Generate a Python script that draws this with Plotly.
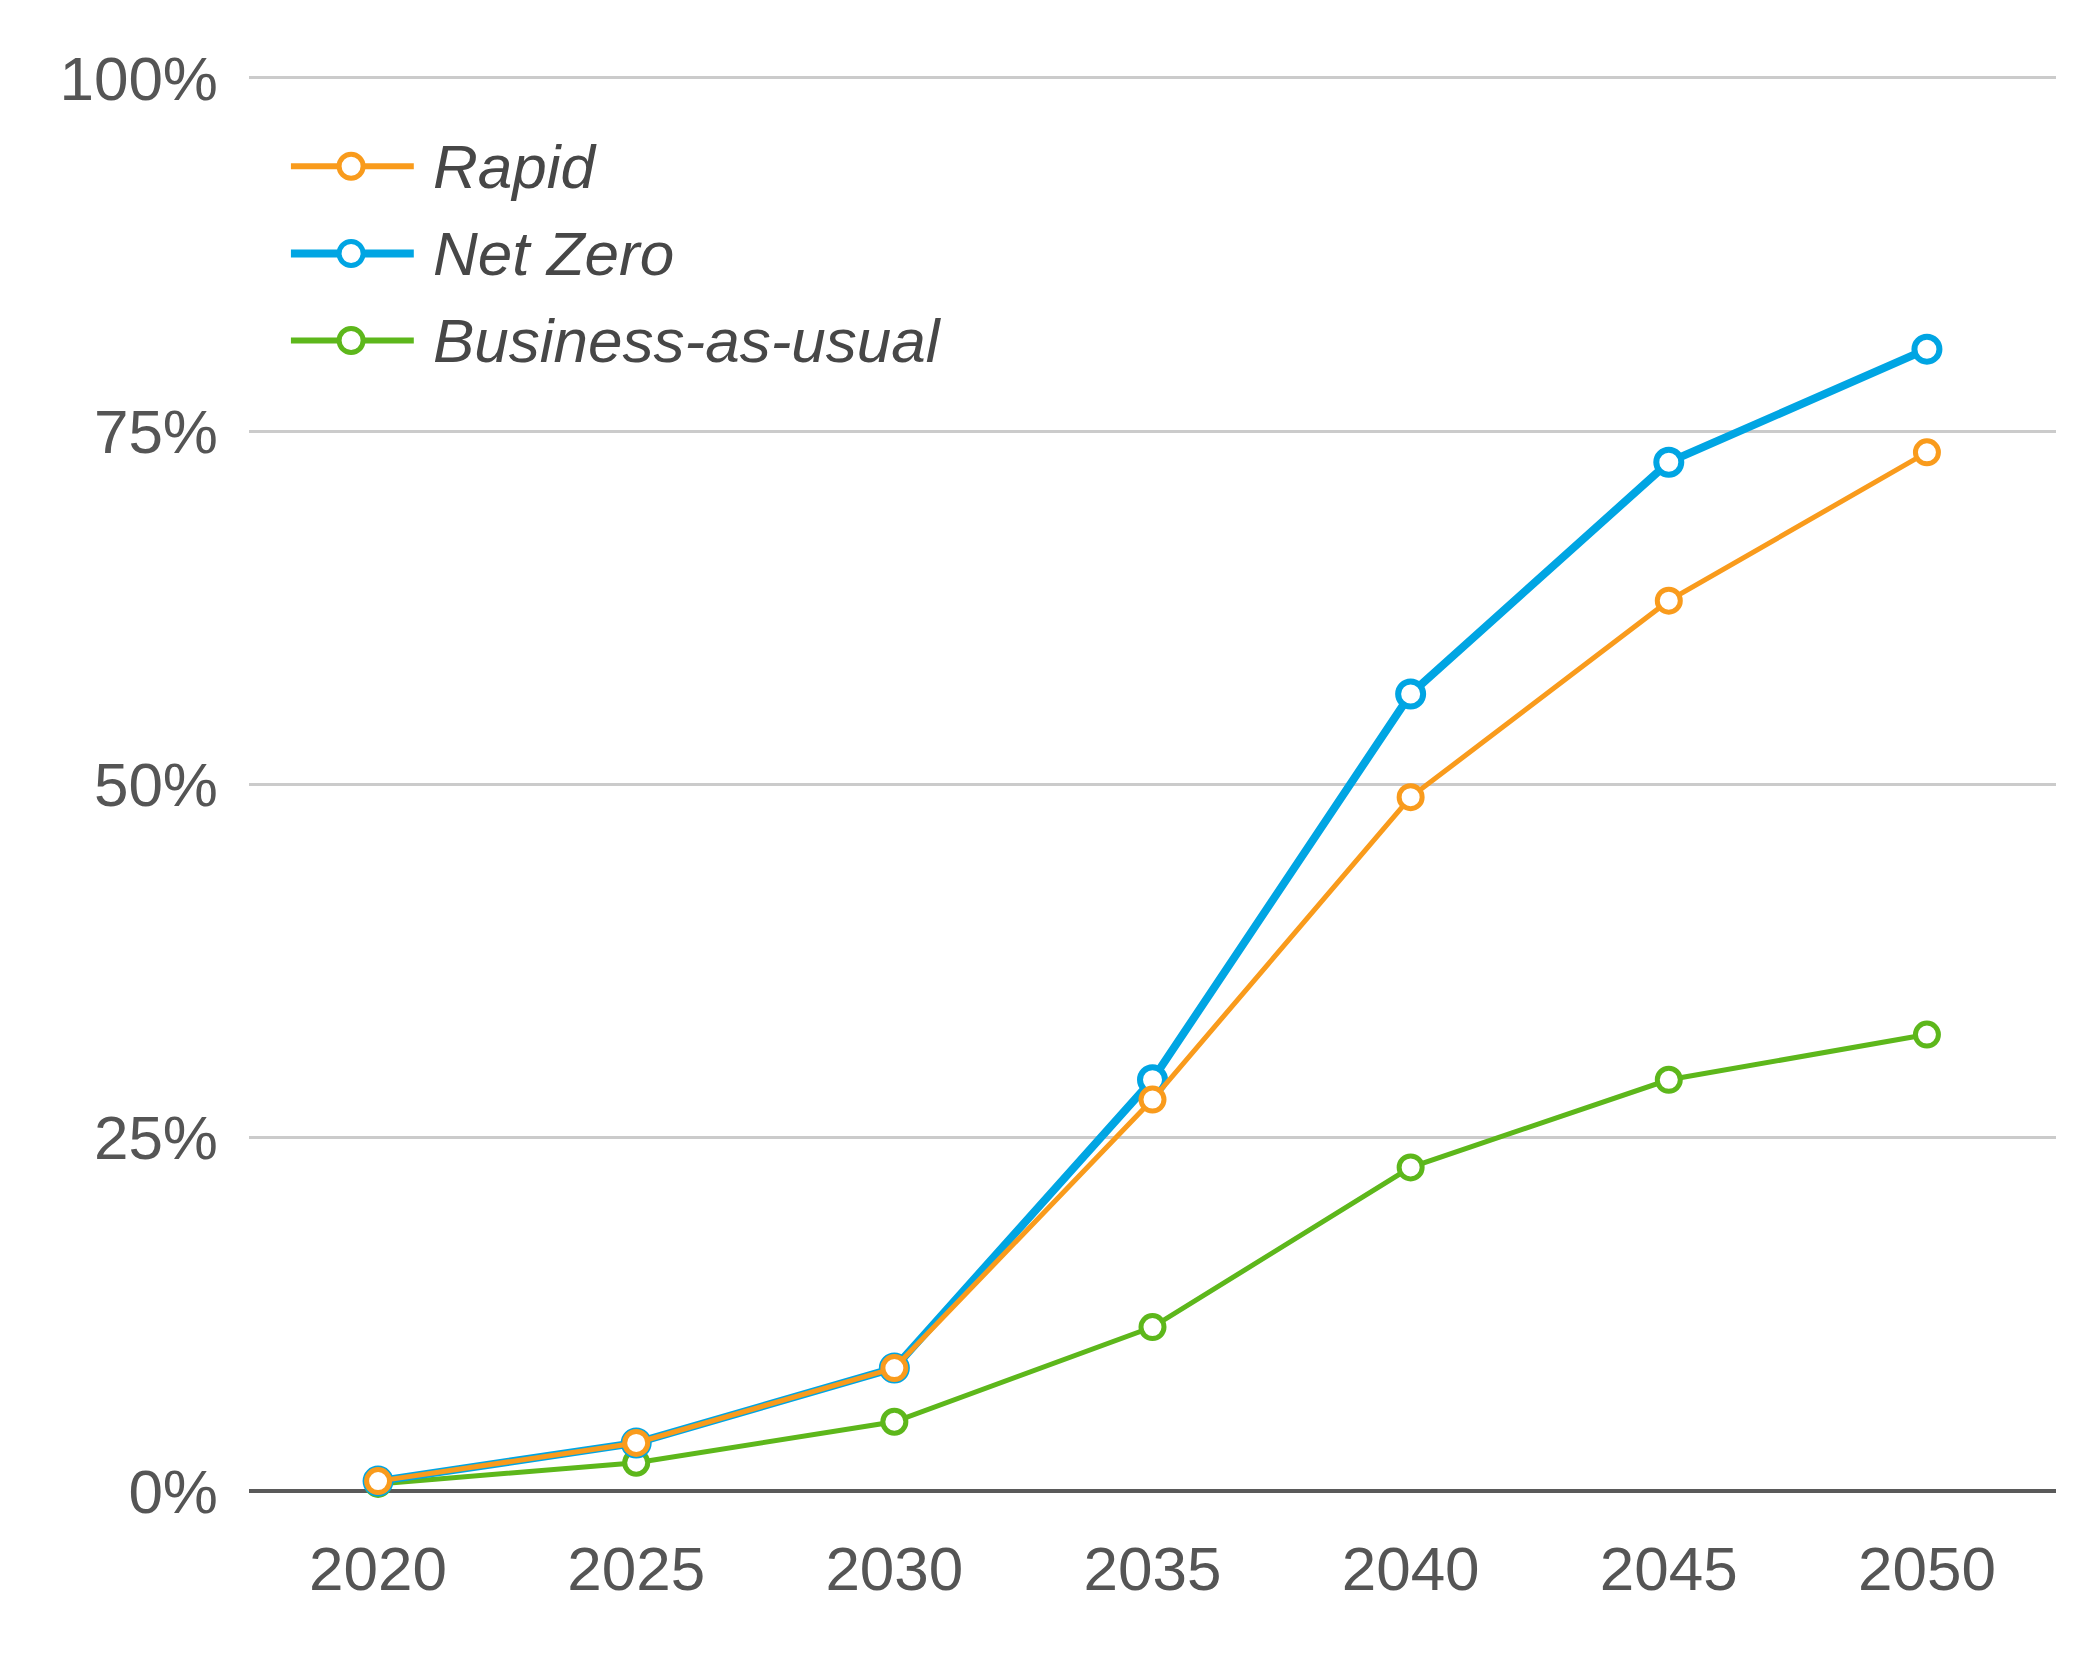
import plotly.graph_objects as go

years = [2020, 2025, 2030, 2035, 2040, 2045, 2050]
rapid = [0.7, 3.4, 8.7, 27.7, 49.1, 63.0, 73.5]
net_zero = [0.7, 3.4, 8.7, 29.1, 56.4, 72.8, 80.8]
business_as_usual = [0.5, 2.0, 4.9, 11.6, 22.9, 29.1, 32.3]

y_ticks = [0, 25, 50, 75, 100]
y_tick_labels = ["0%", "25%", "50%", "75%", "100%"]

series = [
    # name, values, colour, line width, marker size, marker line width
    ("Business-as-usual", business_as_usual, "#5DB71B", 5, 23, 5),
    ("Net Zero", net_zero, "#00A5E3", 8, 25, 6),
    ("Rapid", rapid, "#F99B1C", 5, 23, 5),
]

fig = go.Figure()
for name, vals, col, lw, ms, mlw in series:
    fig.add_trace(go.Scatter(
        x=years, y=vals, name=name, mode="lines+markers",
        line=dict(color=col, width=lw),
        marker=dict(symbol="circle", size=ms, color="white",
                    line=dict(color=col, width=mlw)),
        cliponaxis=False, showlegend=False,
    ))

# custom legend (order: Rapid, Net Zero, Business-as-usual)
legend_rows = [("Rapid", "#F99B1C", 5, 0.9356),
               ("Net Zero", "#00A5E3", 7, 0.874),
               ("Business-as-usual", "#5DB71B", 5, 0.8125)]
shapes = []
annotations = []
for name, col, lw, yy in legend_rows:
    shapes.append(dict(type="line", xref="paper", yref="paper",
                       x0=0.0232, x1=0.0912, y0=yy, y1=yy,
                       line=dict(color=col, width=lw + 1)))
    shapes.append(dict(type="circle", xref="paper", yref="paper",
                       xsizemode="pixel", ysizemode="pixel",
                       xanchor=0.0565, yanchor=yy,
                       x0=-12, x1=12, y0=-12, y1=12,
                       fillcolor="white", line=dict(color=col, width=5)))
    annotations.append(dict(xref="paper", yref="paper", x=0.1005, y=yy,
                            xanchor="left", yanchor="middle", showarrow=False,
                            text="<i>" + name + "</i>",
                            font=dict(family="Liberation Sans", size=62, color="#474747")))

fig.update_layout(
    width=2091, height=1654,
    margin=dict(l=241, r=43, t=67, b=171),
    paper_bgcolor="white", plot_bgcolor="white",
    shapes=shapes, annotations=annotations,
    font=dict(family="Liberation Sans", color="#555555", size=62),
)
fig.update_xaxes(
    range=[2017.5, 2052.5], tickvals=years, ticktext=[str(y) for y in years],
    showgrid=False, zeroline=False, showline=False, ticks="",
    ticklabelstandoff=36,
    tickfont=dict(family="Liberation Sans", size=62, color="#555555"),
)
fig.update_yaxes(
    range=[0, 100.2], tickvals=y_ticks, ticktext=y_tick_labels,
    showgrid=True, gridcolor="#CBCBCB", gridwidth=2.5,
    zeroline=True, zerolinecolor="#5A5A5A", zerolinewidth=3.5,
    showline=False, ticks="", ticklabelstandoff=30,
    tickfont=dict(family="Liberation Sans", size=62, color="#555555"),
)

fig.write_html("out.html")
